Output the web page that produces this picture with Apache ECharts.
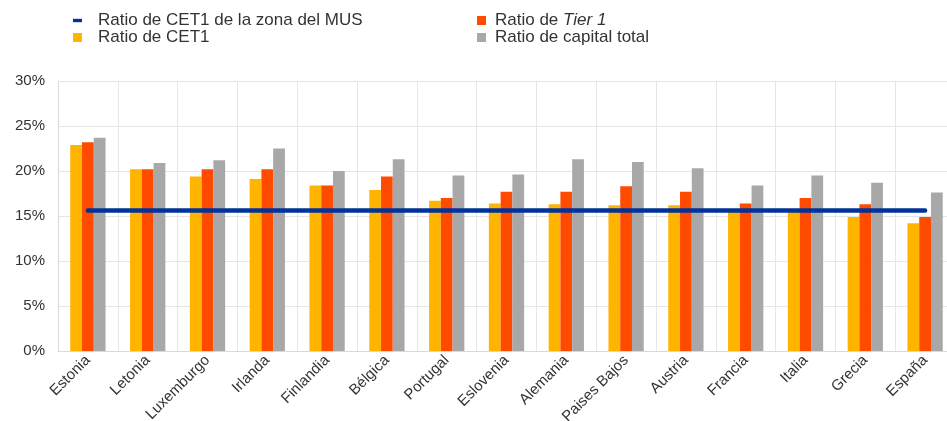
<!DOCTYPE html>
<html>
<head>
<meta charset="utf-8">
<script src="https://cdn.jsdelivr.net/npm/echarts@6/dist/echarts.min.js"></script>
<style>
  html, body { margin: 0; padding: 0; background: #fff; }
  #chart { width: 947px; height: 421px; }
</style>
</head>
<body>
<div id="chart"></div>
<script>
// países ordenados como en el gráfico
const countries = ['Estonia', 'Letonia', 'Luxemburgo', 'Irlanda', 'Finlandia', 'Bélgica', 'Portugal',
  'Eslovenia', 'Alemania', 'Paises Bajos', 'Austria', 'Francia', 'Italia', 'Grecia', 'España'];
const cet1 = [22.9, 20.2, 19.4, 19.1, 18.4, 17.9, 16.7, 16.4, 16.3, 16.2, 16.2, 15.5, 15.5, 14.9, 14.2];
const tier1 = [23.2, 20.2, 20.2, 20.2, 18.4, 19.4, 17.0, 17.7, 17.7, 18.3, 17.7, 16.4, 17.0, 16.3, 14.9];
const totalCapital = [23.7, 20.9, 21.2, 22.5, 20.0, 21.3, 19.5, 19.6, 21.3, 21.0, 20.3, 18.4, 19.5, 18.7, 17.6];
const musCet1 = 15.6;
const yTicks = [0, 5, 10, 15, 20, 25, 30];

const names = {
  mus: 'Ratio de CET1 de la zona del MUS',
  cet1: 'Ratio de CET1',
  tier1: 'Ratio de Tier 1',
  total: 'Ratio de capital total'
};

const chart = echarts.init(document.getElementById('chart'));

const FONT = 'Liberation Sans, Arial, sans-serif';

function legendText(padLeft) {
  return {
    color: '#333',
    fontSize: 17,
    fontFamily: FONT,
    lineHeight: 17,
    padding: [0, 0, 0, padLeft],
    rich: {
      it: { fontStyle: 'italic', fontSize: 17, fontFamily: FONT, color: '#333' }
    }
  };
}

const legendFormatter = function (name) {
  if (name === names.tier1) return 'Ratio de {it|Tier 1}';
  return name;
};

const option = {
  animation: false,
  legend: [
    {
      orient: 'vertical',
      left: 68,
      top: 7,
      itemGap: 0,
      itemWidth: 9,
      itemHeight: 9,
      textStyle: legendText(11),
      formatter: legendFormatter,
      data: [
        { name: names.mus, icon: 'path://M0,0H8V3H0Z' },
        { name: names.cet1, icon: 'rect' }
      ]
    },
    {
      orient: 'vertical',
      left: 472,
      top: 7,
      itemGap: 0,
      itemWidth: 9,
      itemHeight: 9,
      textStyle: legendText(4),
      formatter: legendFormatter,
      data: [
        { name: names.tier1, icon: 'rect' },
        { name: names.total, icon: 'rect' }
      ]
    }
  ],
  grid: {
    left: 58,
    right: -8,
    top: 81,
    bottom: 70,
    outerBoundsMode: 'none'
  },
  xAxis: {
    type: 'category',
    data: countries,
    axisLine: { lineStyle: { color: '#d9d9d9' } },
    axisTick: { show: false },
    splitLine: { show: true, interval: 0, lineStyle: { color: '#e6e6e6' } },
    axisLabel: {
      interval: 0,
      rotate: 45,
      margin: 7,
      color: '#333',
      fontSize: 15,
      fontFamily: FONT
    }
  },
  yAxis: {
    type: 'value',
    min: yTicks[0],
    max: yTicks[yTicks.length - 1],
    interval: 5,
    axisLine: { show: true, lineStyle: { color: '#d9d9d9' } },
    axisTick: { show: false },
    splitLine: { lineStyle: { color: '#e6e6e6' } },
    axisLabel: {
      formatter: '{value}%',
      margin: 13,
      color: '#333',
      fontSize: 15,
      fontFamily: FONT
    }
  },
  series: [
    {
      name: names.cet1,
      type: 'bar',
      data: cet1,
      barGap: '0%',
      barCategoryGap: '41%',
      itemStyle: { color: '#ffb400' }
    },
    {
      name: names.tier1,
      type: 'bar',
      data: tier1,
      itemStyle: { color: '#ff4b00' }
    },
    {
      name: names.total,
      type: 'bar',
      data: totalCapital,
      itemStyle: { color: '#a8a8a8' }
    },
    {
      name: names.mus,
      type: 'line',
      data: countries.map(() => musCet1),
      symbol: 'none',
      itemStyle: { color: '#003299' },
      lineStyle: { color: '#003299', width: 4.5, cap: 'round' },
      z: 5
    }
  ]
};

chart.setOption(option);
</script>
</body>
</html>
